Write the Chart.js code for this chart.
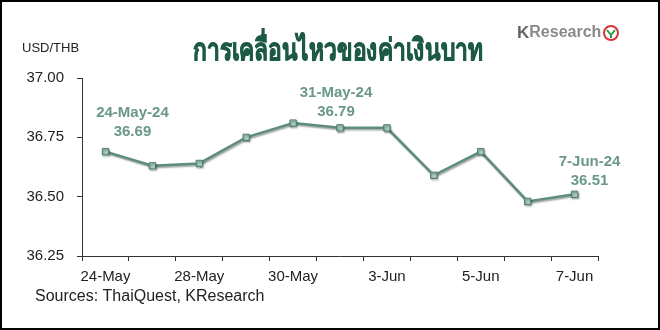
<!DOCTYPE html>
<html>
<head>
<meta charset="utf-8">
<script src="https://cdn.jsdelivr.net/npm/chart.js@4"></script>
<style>
  html, body { margin: 0; padding: 0; background: #fff; }
  #wrap { width: 660px; height: 330px; position: relative; }
</style>
</head>
<body>
<div id="wrap"><canvas id="viz" width="660" height="330"></canvas></div>
<script>
// data
var dates = ['24-May', '27-May', '28-May', '29-May', '30-May', '31-May', '3-Jun', '4-Jun', '5-Jun', '6-Jun', '7-Jun'];
var usdThb = [36.69, 36.63, 36.64, 36.75, 36.81, 36.79, 36.79, 36.59, 36.69, 36.48, 36.51];
var yTicks = [36.25, 36.50, 36.75, 37.00];
var calloutIndex = [0, 5, 10];
var calloutName = ['24-May-24', '31-May-24', '7-Jun-24'];

// where each callout sits relative to its point (dx, dy of first line)
var calloutShift = [[27, -39], [-4, -35], [15, -32]];

var FONT = '"Liberation Sans", Arial, sans-serif';

var decor = {
  id: 'decor',
  afterDatasetsDraw: function (chart) {
    var ctx = chart.ctx;
    var meta = chart.getDatasetMeta(0);
    ctx.save();
    ctx.fillStyle = '#6a9886';
    ctx.font = 'bold 15px ' + FONT;
    ctx.textAlign = 'center';
    ctx.textBaseline = 'middle';
    calloutIndex.forEach(function (idx, k) {
      var pt = meta.data[idx];
      var x = pt.x + calloutShift[k][0];
      var y = pt.y + calloutShift[k][1];
      ctx.fillText(calloutName[k], x, y);
      ctx.fillText(usdThb[idx].toFixed(2), x, y + 19);
    });
    ctx.restore();
  },
  afterDraw: function (chart) {
    var ctx = chart.ctx;
    ctx.save();
    // unit label
    ctx.fillStyle = '#222';
    ctx.font = '13px ' + FONT;
    ctx.textBaseline = 'middle';
    ctx.textAlign = 'left';
    ctx.fillText('USD/THB', 22, 48);
    // title, squeezed like the original condensed face
    ctx.save();
    ctx.fillStyle = '#1d5a45';
    ctx.strokeStyle = '#1d5a45';
    ctx.lineWidth = 0.9;
    ctx.font = 'bold 30px "Noto Sans", sans-serif';
    ctx.textAlign = 'center';
    ctx.textBaseline = 'alphabetic';
    var tw = ctx.measureText('การเคลื่อนไหวของค่าเงินบาท').width;
    ctx.translate(338, 60);
    ctx.scale(290 / tw, 1);
    ctx.fillText('การเคลื่อนไหวของค่าเงินบาท', 0, 0);
    ctx.strokeText('การเคลื่อนไหวของค่าเงินบาท', 0, 0);
    ctx.restore();
    // source
    ctx.fillStyle = '#222';
    ctx.font = '16px ' + FONT;
    ctx.textAlign = 'left';
    ctx.textBaseline = 'middle';
    ctx.fillText('Sources: ThaiQuest, KResearch', 35, 297);
    // logo
    ctx.font = 'bold 17px ' + FONT;
    ctx.fillStyle = '#666';
    ctx.fillText('K', 517, 33);
    var kw = ctx.measureText('K').width;
    ctx.fillStyle = '#8a8a8a';
    ctx.font = 'bold 16px ' + FONT;
    ctx.fillText('Research', 517 + kw, 33);
    ctx.beginPath();
    ctx.arc(611, 33, 7, 0, Math.PI * 2);
    ctx.fillStyle = '#fff';
    ctx.fill();
    ctx.lineWidth = 2;
    ctx.strokeStyle = '#d8343a';
    ctx.stroke();
    ctx.beginPath();
    ctx.moveTo(607, 30);
    ctx.lineTo(611, 35);
    ctx.lineTo(615, 30);
    ctx.moveTo(611, 35);
    ctx.lineTo(611, 38);
    ctx.strokeStyle = '#2e9a48';
    ctx.lineWidth = 2;
    ctx.stroke();
    // frame
    ctx.strokeStyle = '#000';
    ctx.lineWidth = 2;
    ctx.strokeRect(1, 1, 658, 328);
    ctx.restore();
  }
};

var shadow = {
  id: 'shadow',
  beforeDatasetDraw: function (chart) {
    var ctx = chart.ctx;
    ctx.save();
    ctx.shadowColor = 'rgba(40,60,50,0.45)';
    ctx.shadowOffsetX = 1;
    ctx.shadowOffsetY = 1.5;
    ctx.shadowBlur = 1.5;
  },
  afterDatasetDraw: function (chart) {
    chart.ctx.restore();
  }
};

var chart = new Chart(document.getElementById('viz').getContext('2d'), {
  type: 'line',
  data: {
    labels: dates,
    datasets: [{
      data: usdThb,
      borderColor: '#5f8d7b',
      borderWidth: 2.5,
      tension: 0,
      pointStyle: 'rect',
      pointRadius: 4.5,
      pointBackgroundColor: '#a6cbbb',
      pointBorderColor: '#4f7d6b',
      pointBorderWidth: 1
    }]
  },
  options: {
    responsive: false,
    animation: false,
    events: [],
    layout: { padding: { left: 0, right: 62, top: 78, bottom: 0 } },
    plugins: { legend: { display: false }, tooltip: { enabled: false }, title: { display: false } },
    scales: {
      x: {
        offset: true,
        afterFit: function (s) { s.height = 74; },
        grid: { offset: true, drawOnChartArea: false, drawTicks: true, tickLength: 5, tickColor: '#333', lineWidth: 1 },
        border: { display: true, color: '#333', width: 1 },
        ticks: {
          autoSkip: false,
          maxRotation: 0,
          padding: 7,
          color: '#222',
          font: { family: FONT, size: 15 },
          callback: function (v, i) { return i % 2 === 0 ? dates[i] : ''; }
        }
      },
      y: {
        min: yTicks[0],
        max: yTicks[yTicks.length - 1],
        afterFit: function (s) { s.width = 82; },
        afterBuildTicks: function (s) { s.ticks = yTicks.map(function (v) { return { value: v }; }); },
        grid: { drawOnChartArea: false, drawTicks: true, tickLength: 5, tickColor: '#333' },
        border: { display: true, color: '#333', width: 1 },
        ticks: {
          padding: 13,
          color: '#222',
          font: { family: FONT, size: 15 },
          callback: function (v) { return Number(v).toFixed(2); }
        }
      }
    }
  },
  plugins: [shadow, decor]
});
</script>
</body>
</html>
